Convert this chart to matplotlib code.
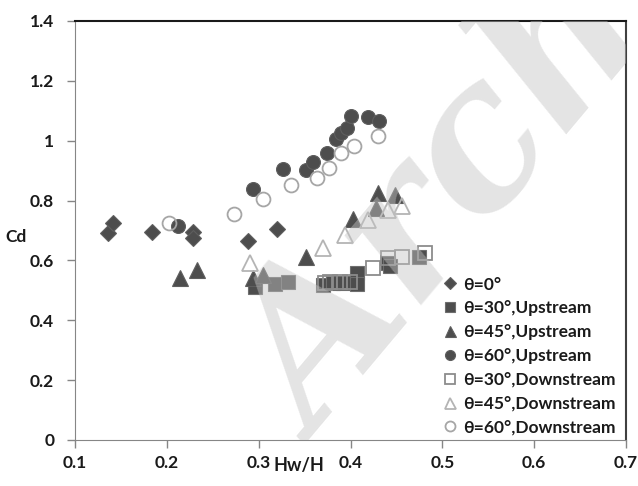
import matplotlib
matplotlib.use("Agg")
import matplotlib.pyplot as plt

# Hw/H and Cd
x_0 = [0.136, 0.141, 0.184, 0.229, 0.228, 0.288, 0.320]
cd_0 = [0.690, 0.724, 0.696, 0.696, 0.674, 0.666, 0.704]

x_30_up = [0.296, 0.318, 0.332, 0.370, 0.381, 0.392, 0.407, 0.407, 0.441, 0.443, 0.475]
cd_30_up = [0.512, 0.521, 0.529, 0.518, 0.525, 0.525, 0.557, 0.521, 0.590, 0.580, 0.612]

x_45_up = [0.214, 0.233, 0.294, 0.305, 0.352, 0.403, 0.428, 0.430, 0.448]
cd_45_up = [0.540, 0.568, 0.540, 0.551, 0.612, 0.737, 0.774, 0.824, 0.819]

x_60_up = [0.212, 0.294, 0.327, 0.352, 0.359, 0.374, 0.384, 0.390, 0.396, 0.401, 0.419, 0.431]
cd_60_up = [0.715, 0.838, 0.904, 0.902, 0.930, 0.958, 1.005, 1.025, 1.041, 1.083, 1.078, 1.067]

x_30_dn = [0.372, 0.378, 0.389, 0.399, 0.425, 0.441, 0.456, 0.481]
cd_30_dn = [0.525, 0.529, 0.529, 0.529, 0.574, 0.607, 0.610, 0.624]

x_45_dn = [0.291, 0.370, 0.394, 0.419, 0.441, 0.456]
cd_45_dn = [0.590, 0.642, 0.685, 0.735, 0.768, 0.782]

x_60_dn = [0.202, 0.273, 0.305, 0.335, 0.363, 0.377, 0.390, 0.404, 0.430]
cd_60_dn = [0.724, 0.755, 0.804, 0.852, 0.874, 0.908, 0.958, 0.982, 1.016]

labels = ["θ=0°", "θ=30°,Upstream", "θ=45°,Upstream", "θ=60°,Upstream",
          "θ=30°,Downstream", "θ=45°,Downstream", "θ=60°,Downstream"]

plt.rcParams['font.family'] = ['Lato', 'DejaVu Sans']
plt.rcParams['font.weight'] = 'bold'

fig = plt.figure(figsize=(6.38, 4.86), dpi=100)
ax = fig.add_axes([0.1176, 0.0947, 0.8636, 0.8621])

dark = '#4d4d4d'
ax.plot(x_0, cd_0, 'D', ms=8, mfc=dark, mec='#5e5e5e', mew=0.8, ls='none', label=labels[0])
ax.plot(x_30_up, cd_30_up, 's', ms=9.5, mfc=dark, mec='#6e6e6e', mew=0.8, ls='none', label=labels[1])
ax.plot(x_45_up, cd_45_up, '^', ms=11, mfc=dark, mec='#5e5e5e', mew=0.8, ls='none', label=labels[2])
ax.plot(x_60_up, cd_60_up, 'o', ms=10, mfc=dark, mec='#5e5e5e', mew=0.8, ls='none', label=labels[3])
ax.plot(x_30_dn, cd_30_dn, 's', ms=9.5, mfc='none', mec='#8c8c8c', mew=1.3, ls='none', label=labels[4])
ax.plot(x_45_dn, cd_45_dn, '^', ms=11, mfc='none', mec='#b4b4b4', mew=1.3, ls='none', label=labels[5])
ax.plot(x_60_dn, cd_60_dn, 'o', ms=10, mfc='none', mec='#a6a6a6', mew=1.3, ls='none', label=labels[6])

ax.set_xlim(0.1, 0.7)
ax.set_ylim(0, 1.4)
xt = [0.1, 0.2, 0.3, 0.4, 0.5, 0.6, 0.7]
yt = [0, 0.2, 0.4, 0.6, 0.8, 1.0, 1.2, 1.4]
ax.set_xticks(xt)
ax.set_xticklabels(["0.1", "0.2", "0.3", "0.4", "0.5", "0.6", "0.7"])
ax.set_yticks(yt)
ax.set_yticklabels(["0", "0.2", "0.4", "0.6", "0.8", "1", "1.2", "1.4"])
ax.tick_params(axis='both', direction='out', length=6, width=1, color='#868686',
               labelsize=12.5, labelcolor='#1a1a1a')
ax.tick_params(axis='y', pad=9)
ax.tick_params(axis='x', pad=5)

ax.spines['left'].set_color('#868686')
ax.spines['bottom'].set_color('#868686')
ax.spines['top'].set_color('#1a1a1a')
ax.spines['top'].set_linewidth(1.5)
ax.spines['right'].set_color('#404040')
ax.spines['right'].set_linewidth(1.5)

ax.text(-0.107, 0.484, "Cd", transform=ax.transAxes, fontsize=12.5, fontweight='bold',
        ha='center', va='center', color='#1a1a1a')
ax.text(0.406, -0.06, "Hw/H", transform=ax.transAxes, fontsize=13, fontweight='bold',
        ha='center', va='center', color='#1a1a1a')

leg = ax.legend(loc='upper left', bbox_to_anchor=(0.668, 0.39), frameon=False,
                fontsize=12.5, markerscale=0.72, handlelength=0.8, handletextpad=0.35,
                labelspacing=0.45, borderpad=0, borderaxespad=0)
for t in leg.get_texts():
    t.set_color('#1a1a1a')

# faint watermark
ax.text(0.445, -0.012, "Archive", transform=ax.transAxes, fontsize=145, family='DejaVu Serif',
        style='italic', fontweight='bold', rotation=50, rotation_mode='anchor',
        color='#c4c4c4', alpha=0.45, ha='left', va='baseline', zorder=5, clip_on=True)

fig.savefig("out.png", dpi=100)
